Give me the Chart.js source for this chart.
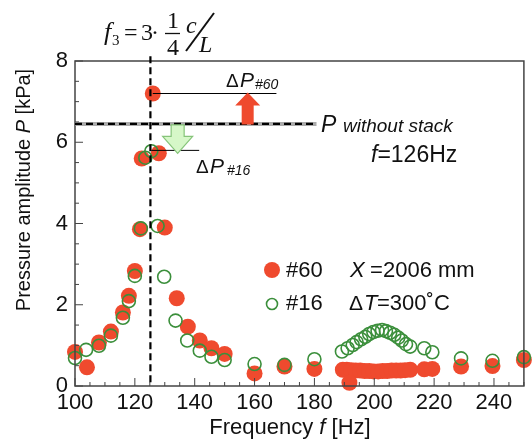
<!DOCTYPE html>
<html><head><meta charset="utf-8">
<script src="https://cdn.jsdelivr.net/npm/chart.js@4"></script>
<style>html,body{margin:0;padding:0;background:#fff;}canvas{display:block;}</style>
</head><body>
<canvas id="c" width="532" height="444"></canvas>
<script>
// ---- data ----
const freq60 = [100,104,108,112,116,118,120,121.7,122.3,126,128,130,134,137.7,141.7,145.6,150,160,170,180,
  189.5,190.8,192.3,193.8,195.3,196.8,198.3,199.8,201.3,202.8,204.3,205.8,207.3,208.8,210.3,212,216.7,219.4,191.7,
  229,239.5,250];
const p60 = [0.84,0.46,1.07,1.34,1.81,2.22,2.83,3.86,5.6,7.2,5.73,3.9,2.16,1.46,1.12,0.93,0.79,0.31,0.48,0.42,
  0.40,0.40,0.39,0.38,0.38,0.37,0.37,0.36,0.36,0.37,0.37,0.38,0.38,0.38,0.39,0.40,0.41,0.42,0.08,
  0.48,0.49,0.64];
const freq16 = [100,103.7,108,112,116,118,120,122,123.5,125.5,127.6,129.8,133.6,137.5,141.7,145.6,150,160,170,180,
  189.2,191.1,192.8,194.1,195.6,197,198.3,199.7,201.1,202.6,203.9,205.3,206.7,208,209.2,210.6,212,216.7,219.4,
  229,239.5,250];
const p16 = [0.69,0.89,0.99,1.24,1.68,2.09,2.71,3.88,5.62,5.78,3.94,2.69,1.61,1.12,0.87,0.72,0.64,0.54,0.52,0.66,
  0.85,0.93,1.01,1.08,1.15,1.21,1.28,1.33,1.36,1.38,1.35,1.31,1.26,1.19,1.12,1.03,0.97,0.93,0.83,
  0.68,0.62,0.71];
const xTickLabels = [100,120,140,160,180,200,220,240];
const yTickLabels = [0,2,4,6,8];
const f3 = 125.2;          // resonance line
const pNoStack = 6.45;     // pressure without stack
const dP60 = 7.2, dP16 = 5.8;

const RED = '#ef4a2e', GREEN = '#3b8f3b';
const SANS = '"Liberation Sans", Arial, sans-serif';
const SERIF = '"Liberation Serif", "Times New Roman", serif';

const toPts = (xs, ys) => xs.map((x, i) => ({x, y: ys[i]}));

const deco = {
  id: 'deco',
  afterDatasetsDraw(chart) {
    const ctx = chart.ctx, xs = chart.scales.x, ys = chart.scales.y, a = chart.chartArea;
    const X = v => xs.getPixelForValue(v), Y = v => ys.getPixelForValue(v);
    ctx.save();
    // frame
    ctx.strokeStyle = '#444'; ctx.lineWidth = 1.5;
    ctx.strokeRect(a.left, a.top, a.right - a.left, a.bottom - a.top);
    // ticks (inward)
    ctx.lineWidth = 1;
    for (let v = 100; v <= 250; v += 5) {
      const len = v % 20 === 0 ? 8 : 4;
      ctx.beginPath(); ctx.moveTo(X(v), a.bottom); ctx.lineTo(X(v), a.bottom - len); ctx.stroke();
    }
    for (let v = 0; v <= 8; v += 0.5) {
      const len = v % 2 === 0 ? 8 : 4;
      ctx.beginPath(); ctx.moveTo(a.left, Y(v)); ctx.lineTo(a.left + len, Y(v)); ctx.stroke();
    }
    // horizontal P without stack (grey band + black dashes)
    ctx.strokeStyle = 'rgba(150,150,150,0.8)'; ctx.lineWidth = 4;
    ctx.beginPath(); ctx.moveTo(a.left, Y(pNoStack)); ctx.lineTo(X(180.7), Y(pNoStack)); ctx.stroke();
    ctx.strokeStyle = '#000'; ctx.lineWidth = 2.2; ctx.setLineDash([7, 4]);
    ctx.beginPath(); ctx.moveTo(a.left, Y(pNoStack)); ctx.lineTo(X(180.7), Y(pNoStack)); ctx.stroke();
    // vertical f3 line
    ctx.beginPath(); ctx.moveTo(X(f3), Y(8.12)); ctx.lineTo(X(f3), a.bottom); ctx.stroke();
    ctx.setLineDash([]);
    // delta lines
    ctx.lineWidth = 1; ctx.strokeStyle = '#000';
    ctx.beginPath(); ctx.moveTo(X(126), Y(dP60)); ctx.lineTo(X(167.3), Y(dP60)); ctx.stroke();
    ctx.beginPath(); ctx.moveTo(X(125.5), Y(dP16)); ctx.lineTo(X(141.5), Y(dP16)); ctx.stroke();
    // red arrow (up)
    const rx = X(157.7), rb = Y(pNoStack) + 0.5, rt = Y(dP60) - 1, rh = rt + 13;
    ctx.fillStyle = RED;
    ctx.beginPath();
    ctx.moveTo(rx - 6, rb); ctx.lineTo(rx - 6, rh); ctx.lineTo(rx - 12.5, rh); ctx.lineTo(rx, rt);
    ctx.lineTo(rx + 12.5, rh); ctx.lineTo(rx + 6, rh); ctx.lineTo(rx + 6, rb); ctx.closePath(); ctx.fill();
    // green arrow (down)
    const gx = X(134.3), gt = Y(pNoStack) + 1, gtip = Y(dP16) + 3, gh = gtip - 17;
    ctx.fillStyle = '#d6f7c8'; ctx.strokeStyle = '#86c47a'; ctx.lineWidth = 1.2;
    ctx.beginPath();
    ctx.moveTo(gx - 6.5, gt); ctx.lineTo(gx - 6.5, gh); ctx.lineTo(gx - 15, gh); ctx.lineTo(gx, gtip);
    ctx.lineTo(gx + 15, gh); ctx.lineTo(gx + 6.5, gh); ctx.lineTo(gx + 6.5, gt); ctx.closePath();
    ctx.fill(); ctx.stroke();

    // texts
    ctx.fillStyle = '#111'; ctx.textBaseline = 'alphabetic'; ctx.textAlign = 'left';
    // P without stack
    ctx.font = 'italic 23px ' + SANS; ctx.fillText('P', 321, 132);
    ctx.font = 'italic 19px ' + SANS; ctx.fillText('without stack', 343, 132);
    // f=126Hz
    ctx.font = 'italic 23px ' + SANS; ctx.fillText('f', 371, 162);
    let w = ctx.measureText('f').width;
    ctx.font = '23px ' + SANS; ctx.fillText('=126Hz', 371 + w, 162);
    // ΔP#60
    ctx.font = '19px ' + SANS; ctx.fillText('Δ', 226, 87);
    ctx.font = 'italic 21px ' + SANS; ctx.fillText('P', 240, 87);
    ctx.font = 'italic 14px ' + SANS; ctx.fillText('#60', 255, 89);
    // ΔP#16
    ctx.font = '19px ' + SANS; ctx.fillText('Δ', 196, 173);
    ctx.font = 'italic 21px ' + SANS; ctx.fillText('P', 210, 173);
    ctx.font = 'italic 14px ' + SANS; ctx.fillText('#16', 227, 175);
    // formula
    ctx.font = 'italic 26px ' + SERIF; ctx.fillText('f', 104, 40);
    ctx.font = '15px ' + SERIF; ctx.fillText('3', 112, 45);
    ctx.font = '24px ' + SERIF; ctx.fillText('=', 124, 40);
    ctx.fillText('3', 141, 40); ctx.fillText('·', 151, 40);
    ctx.fillText('1', 167, 28); ctx.fillText('4', 167, 55);
    ctx.lineWidth = 1.3; ctx.strokeStyle = '#111';
    ctx.beginPath(); ctx.moveTo(165, 33.5); ctx.lineTo(180, 33.5); ctx.stroke();
    ctx.font = 'italic 24px ' + SERIF; ctx.fillText('c', 186, 33); ctx.fillText('L', 199, 52);
    ctx.lineWidth = 2;
    ctx.beginPath(); ctx.moveTo(214, 13); ctx.lineTo(186, 51); ctx.stroke();

    // legend
    ctx.fillStyle = RED; ctx.beginPath(); ctx.arc(272, 270, 8, 0, Math.PI * 2); ctx.fill();
    ctx.strokeStyle = GREEN; ctx.lineWidth = 1.6; ctx.beginPath(); ctx.arc(272, 304, 5.5, 0, Math.PI * 2); ctx.stroke();
    ctx.fillStyle = '#111'; ctx.textBaseline = 'middle';
    ctx.font = '22px ' + SANS; ctx.fillText('#60', 286, 271); ctx.fillText('#16', 286, 304);
    ctx.font = 'italic 22px ' + SANS; ctx.fillText('X', 350, 271);
    ctx.font = '22px ' + SANS; ctx.fillText(' =2006 mm', 364, 271);
    ctx.font = '21px ' + SANS; ctx.fillText('Δ', 349, 304);
    ctx.font = 'italic 22px ' + SANS; ctx.fillText('T', 364, 304);
    ctx.font = '22px ' + SANS; ctx.fillText('=300˚C', 377, 304);

    // axis titles
    ctx.textBaseline = 'middle'; ctx.textAlign = 'left';
    const t1 = 'Frequency ', t2 = 'f', t3 = ' [Hz]';
    ctx.font = '22px ' + SANS; const w1 = ctx.measureText(t1).width, w3 = ctx.measureText(t3).width;
    ctx.font = 'italic 22px ' + SANS; const w2 = ctx.measureText(t2).width;
    let sx = 290 - (w1 + w2 + w3) / 2;
    ctx.font = '22px ' + SANS; ctx.fillText(t1, sx, 428);
    ctx.font = 'italic 22px ' + SANS; ctx.fillText(t2, sx + w1, 428);
    ctx.font = '22px ' + SANS; ctx.fillText(t3, sx + w1 + w2, 428);
    ctx.translate(24, 190); ctx.rotate(-Math.PI / 2);
    const u1 = 'Pressure amplitude ', u2 = 'P', u3 = ' [kPa]';
    ctx.font = '20px ' + SANS; const v1 = ctx.measureText(u1).width, v3 = ctx.measureText(u3).width;
    ctx.font = 'italic 20px ' + SANS; const v2 = ctx.measureText(u2).width;
    sx = -(v1 + v2 + v3) / 2;
    ctx.font = '20px ' + SANS; ctx.fillText(u1, sx, 0);
    ctx.font = 'italic 20px ' + SANS; ctx.fillText(u2, sx + v1, 0);
    ctx.font = '20px ' + SANS; ctx.fillText(u3, sx + v1 + v2, 0);
    ctx.restore();
  }
};

new Chart(document.getElementById('c'), {
  type: 'scatter',
  data: {
    datasets: [
      { label: '#16', data: toPts(freq16, p16), pointStyle: 'circle', pointRadius: 6.5, pointHoverRadius: 6.5,
        pointBorderWidth: 1.6, borderColor: GREEN, backgroundColor: 'rgba(0,0,0,0)', clip: false, order: 0 },
      { label: '#60', data: toPts(freq60, p60), pointStyle: 'circle', pointRadius: 8, pointHoverRadius: 8,
        pointBorderWidth: 0, borderColor: RED, backgroundColor: RED, clip: false, order: 1 }
    ]
  },
  options: {
    responsive: false, animation: false, events: [],
    layout: { padding: { top: 61, right: 7, left: 0, bottom: 0 } },
    plugins: { legend: { display: false }, tooltip: { enabled: false } },
    scales: {
      x: {
        type: 'linear', min: 100, max: 250,
        afterBuildTicks: s => { s.ticks = xTickLabels.map(v => ({ value: v })); },
        afterFit: s => { s.height = 58; },
        grid: { display: false, drawTicks: false }, border: { display: false },
        ticks: { padding: 4, color: '#111', font: { family: SANS, size: 22 }, maxRotation: 0, autoSkip: false }
      },
      y: {
        type: 'linear', min: 0, max: 8,
        afterBuildTicks: s => { s.ticks = yTickLabels.map(v => ({ value: v })); },
        afterFit: s => { s.width = 75; },
        grid: { display: false, drawTicks: false }, border: { display: false },
        ticks: { padding: 7, color: '#111', font: { family: SANS, size: 22 } }
      }
    }
  },
  plugins: [deco]
});
</script>
</body></html>
